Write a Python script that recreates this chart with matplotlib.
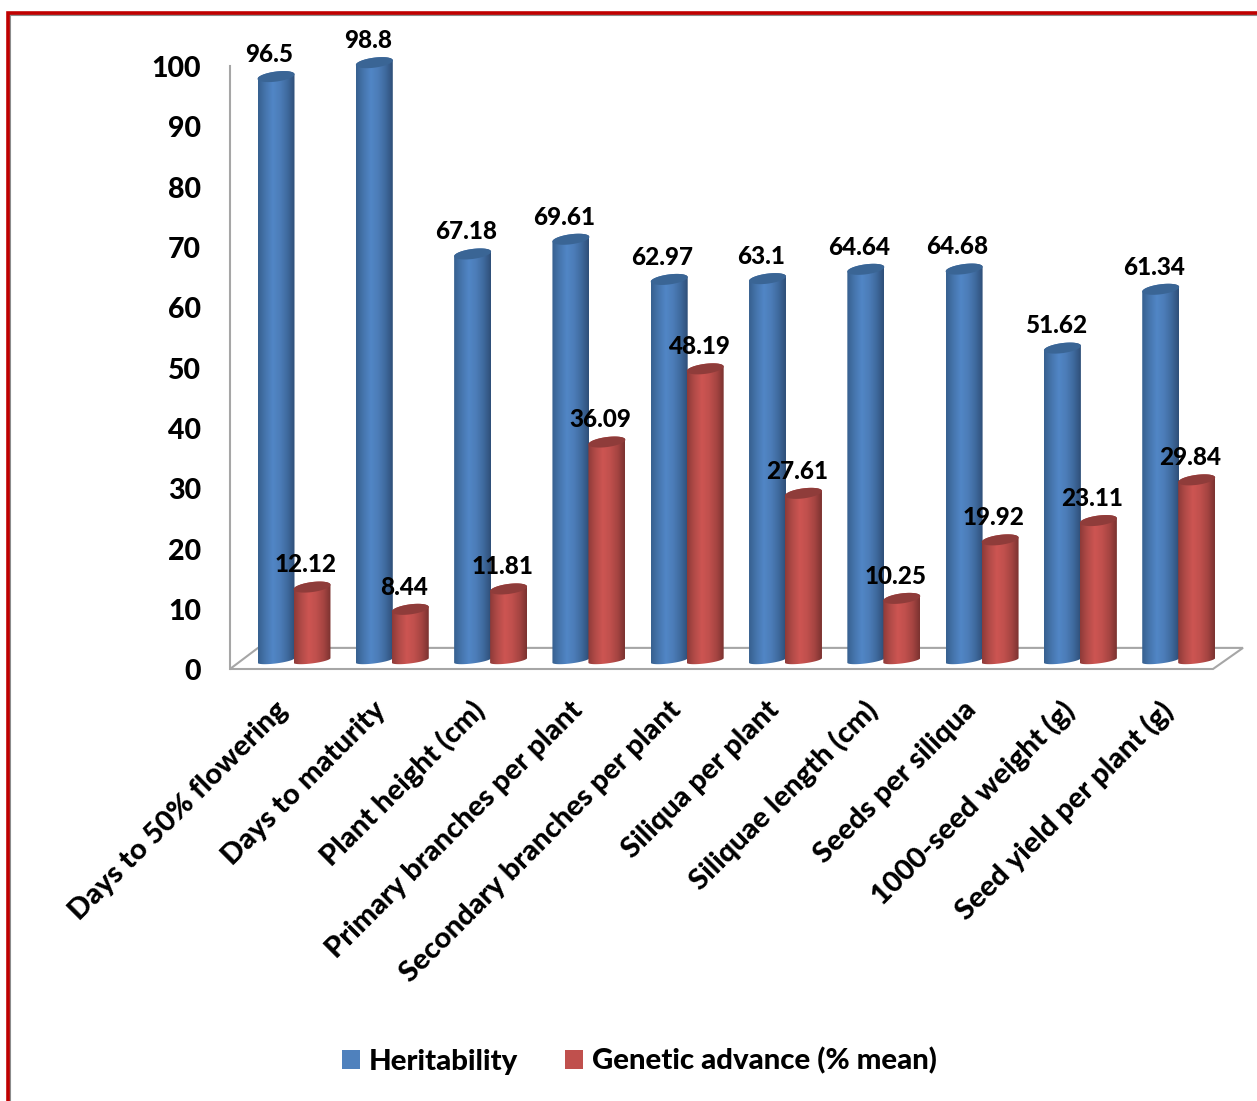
import numpy as np
import matplotlib
matplotlib.use('Agg')
import matplotlib.pyplot as plt
from matplotlib.colors import LinearSegmentedColormap
from matplotlib.patches import Patch, Polygon, Rectangle
from matplotlib.path import Path
from matplotlib.transforms import ScaledTranslation

traits = ['Days to 50% flowering', 'Days to maturity', 'Plant height (cm)',
          'Primary branches per plant', 'Secondary branches per plant',
          'Siliqua per plant', 'Siliquae length (cm)', 'Seeds per siliqua',
          '1000-seed weight (g)', 'Seed yield per plant (g)']
heritability = [96.5, 98.8, 67.18, 69.61, 62.97, 63.1, 64.64, 64.68, 51.62, 61.34]
genetic_advance = [12.12, 8.44, 11.81, 36.09, 48.19, 27.61, 10.25, 19.92, 23.11, 29.84]
heritability_text = ['96.5', '98.8', '67.18', '69.61', '62.97', '63.1', '64.64', '64.68', '51.62', '61.34']
advance_text = ['12.12', '8.44', '11.81', '36.09', '48.19', '27.61', '10.25', '19.92', '23.11', '29.84']
y_ticks = list(range(0, 101, 10))

W, H = 1257, 1101
plt.rcParams['font.family'] = ['Lato', 'DejaVu Sans']
plt.rcParams['font.weight'] = 'black'

fig = plt.figure(figsize=(W / 100, H / 100), dpi=100)

def axes_box(left, right, top, bottom):
    return [left / W, 1 - bottom / H, (right - left) / W, (bottom - top) / H]

# category spacing is 98.3 px, first category centred at x = 294 px
X_RANGE = ((230 - 294) / 98.3, (1243 - 294) / 98.3)

# front plane: value axis, floor, category labels
frame = fig.add_axes(axes_box(230, 1243, 66, 669))
frame.set_xlim(X_RANGE)
frame.set_ylim(0, 100)
for side in ['top', 'right', 'bottom']:
    frame.spines[side].set_visible(False)
frame.spines['left'].set_color('#a6a6a6')
frame.spines['left'].set_linewidth(1.5)
frame.patch.set_visible(False)
frame.set_yticks(y_ticks)
frame.tick_params(axis='y', length=0, pad=21, labelsize=20.5)
for label in frame.get_yticklabels():
    label.set_transform(label.get_transform() + ScaledTranslation(0, -0.5 / 72, fig.dpi_scale_trans))
frame.set_xticks(np.arange(len(traits)) - 0.2)
frame.set_xticklabels(traits, rotation=45, ha='right', va='top',
                      rotation_mode='anchor', fontsize=21)
frame.tick_params(axis='x', length=0, pad=20)
frame.add_patch(Polygon([(X_RANGE[0], 0), (9.349, 0), (X_RANGE[1], 3.5), (-0.366, 3.5)],
                        closed=True, fill=False, edgecolor='#a6a6a6', linewidth=1.5,
                        clip_on=False))

# cylinders sit on their own plane, a little behind the front edge of the floor
bars = fig.add_axes(axes_box(230, 1243, 55.4, 660.4))
bars.set_xlim(X_RANGE)
bars.set_ylim(0, 100)
bars.axis('off')

blue_map = LinearSegmentedColormap.from_list(
    'blue', ['#37608f', '#4675ad', '#5186c6', '#4c7db8', '#3f6a9e', '#2f4f78'])
red_map = LinearSegmentedColormap.from_list(
    'red', ['#8e3a38', '#b24b48', '#cd5552', '#c0504d', '#a64542', '#7b3230'])

HALF_W = 0.188
ELL_B = 0.83
ELL_K = 0.38
FOOT_B = 0.5  # the base curve is flatter than the cap

def ellipse_arc(center_x, center_y, t, minor=ELL_B):
    return np.column_stack([center_x + HALF_W * np.cos(t),
                            center_y + minor * np.sin(t) + ELL_K * np.cos(t)])

def draw_cylinder(center_x, value, cmap, cap_color):
    upper = ellipse_arc(center_x, value, np.linspace(0, np.pi, 40))
    lower = ellipse_arc(center_x, 0, np.linspace(np.pi, 2 * np.pi, 40), FOOT_B)
    outline = np.vstack([upper, lower, upper[:1]])
    body = bars.imshow(np.linspace(0, 1, 128).reshape(1, -1), cmap=cmap, aspect='auto',
                       extent=(center_x - HALF_W, center_x + HALF_W, -2, value + 2),
                       interpolation='bilinear', zorder=2)
    body.set_clip_path(Path(outline, closed=True), transform=bars.transData)
    body.set_clip_box(fig.bbox)
    cap = ellipse_arc(center_x, value, np.linspace(0, 2 * np.pi, 60))
    bars.add_patch(Polygon(cap, closed=True, facecolor=cap_color, edgecolor='none', zorder=3))

for i in range(len(traits)):
    draw_cylinder(i - 0.183, heritability[i], blue_map, '#3a6595')
    draw_cylinder(i + 0.183, genetic_advance[i], red_map, '#8f3c3a')
    bars.annotate(heritability_text[i], (i - 0.183, heritability[i]), xytext=(-4.8, 16),
                  textcoords='offset points', ha='center', va='center',
                  fontsize=17.5, color='black', zorder=5)
    bars.annotate(advance_text[i], (i + 0.183, genetic_advance[i]), xytext=(-4.5, 16),
                  textcoords='offset points', ha='center', va='center',
                  fontsize=17.5, color='black', zorder=5)
bars.set_xlim(X_RANGE)
bars.set_ylim(0, 100)

handles = [Patch(facecolor='#4f81bd', label='Heritability'),
           Patch(facecolor='#c0504d', label='Genetic advance (% mean)')]
fig.legend(handles=handles, loc='center', bbox_to_anchor=(639.5 / W, 1 - 1061 / H), ncol=2,
           frameon=False, fontsize=21.2, handlelength=0.61, handleheight=0.61,
           handletextpad=0.3, columnspacing=1.6)

# page border running off the right and bottom edges
fig.add_artist(Rectangle((10 / W, -0.05), 1.1, 1 - 15 / H + 0.05, transform=fig.transFigure,
                         fill=False, edgecolor='#8c8c8c', linewidth=1.5))
fig.add_artist(Rectangle((7.5 / W, -0.05), 1.1, 1 - 12.5 / H + 0.05, transform=fig.transFigure,
                         fill=False, edgecolor='#c00000', linewidth=2.6))

fig.savefig('out.png', dpi=100)
